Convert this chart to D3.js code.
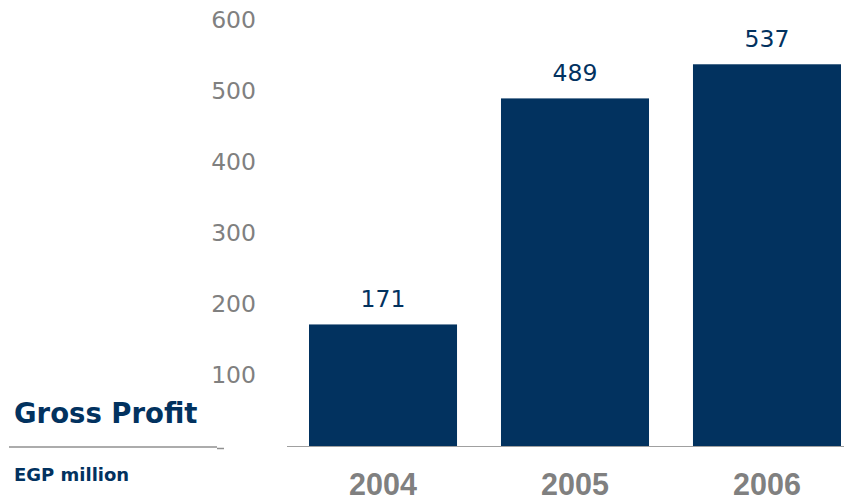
<!DOCTYPE html>
<html><head><meta charset="utf-8">
<script src="https://cdn.jsdelivr.net/npm/d3@7"></script>
<style>body{margin:0;background:#fff}svg{display:block;font-family:"DejaVu Sans",Verdana,sans-serif}</style>
</head><body><svg id="c" width="844" height="499"></svg>
<script>
const categories = ["2004","2005","2006"];
const values = [171,489,537];
const yTicks = [100,200,300,400,500,600];

const svg = d3.select("#c");
const navy = "#02325f", gray = "#808080";
const x = d3.scaleBand().domain(categories).range([287,863]).paddingInner(0.229).paddingOuter(0.1146);
const y = d3.scaleLinear().domain([0,600]).range([446,19.5]);

// y tick labels
svg.append("g").selectAll("text").data(yTicks).join("text")
  .attr("x",256).attr("y",d=>y(d)+8.5).attr("text-anchor","end")
  .attr("font-size",23.5).attr("fill",gray).text(d=>d);

// bars
svg.append("g").selectAll("rect").data(values).join("rect")
  .attr("x",(d,i)=>x(categories[i])).attr("width",x.bandwidth())
  .attr("y",d=>y(d)).attr("height",d=>y(0)-y(d)).attr("fill",navy);

// baseline
svg.append("line").attr("x1",287).attr("x2",844).attr("y1",y(0)+0.5).attr("y2",y(0)+0.5)
  .attr("stroke","#a0a0a0").attr("stroke-width",1.2);

// value labels
svg.append("g").selectAll("text").data(values).join("text")
  .attr("x",(d,i)=>x(categories[i])+x.bandwidth()/2).attr("y",d=>y(d)-17)
  .attr("text-anchor","middle").attr("font-size",23.5).attr("fill",navy).text(d=>d);

// category labels
svg.append("g").selectAll("text").data(categories).join("text")
  .attr("x",d=>x(d)+x.bandwidth()/2).attr("y",495)
  .attr("text-anchor","middle").attr("font-family","'Liberation Sans',Arial,sans-serif")
  .attr("font-size",30.5).attr("font-weight","bold").attr("fill",gray).text(d=>d);

// title block
svg.append("text").attr("x",14).attr("y",423).attr("font-size",27.5).attr("font-weight","bold").attr("fill",navy).text("Gross Profit");
svg.append("line").attr("x1",9).attr("x2",217).attr("y1",447).attr("y2",447).attr("stroke","#909090").attr("stroke-width",1.5);
svg.append("line").attr("x1",217).attr("x2",224).attr("y1",448.5).attr("y2",448.5).attr("stroke","#909090").attr("stroke-width",1.5);
svg.append("text").attr("x",14).attr("y",481).attr("font-size",18).attr("font-weight","bold").attr("fill",navy).text("EGP million");
</script></body></html>
